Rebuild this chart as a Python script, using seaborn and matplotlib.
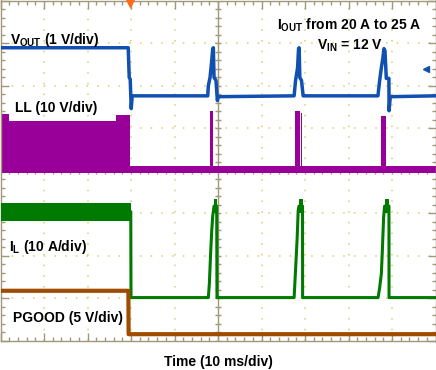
import numpy as np
import matplotlib
matplotlib.use("Agg")
import matplotlib.pyplot as plt
import seaborn as sns

# Zeit in ms (10 ms/div), Amplituden in Skalenteilen (div), Nullinie in der Mitte
vout_t = [0, 29.36, 29.59, 29.82, 30.05, 30.28, 47.64, 47.78, 48.17, 48.56, 48.79, 48.93, 49.09,
          49.54, 49.85, 50.08, 67.5, 67.83, 68.29, 68.52, 68.65, 68.81, 69.2, 69.57, 86.77, 87.16,
          87.55, 87.92, 88.15, 88.38, 88.69, 89.29, 89.32, 89.61, 100]
vout_v = [2.89, 2.89, 2.19, 2.15, 1.46, 1.76, 1.76, 2.0, 2.19, 2.59, 2.87, 2.89, 2.19,
          2.12, 1.65, 1.74, 1.76, 2.12, 2.42, 2.87, 2.89, 2.19, 2.12, 1.76, 1.76, 2.12,
          2.42, 2.66, 2.87, 2.82, 2.17, 2.17, 1.41, 1.74, 1.76]

ll_t = [0, 2.0, 2.0, 26.5, 26.5, 29.8, 29.8, 48.1, 48.1, 48.9, 48.9, 67.6, 67.6, 68.8, 68.8, 69.1,
        69.1, 69.3, 69.3, 87.5, 87.5, 88.7, 88.7, 89.2, 89.2, 89.4, 89.4, 100]
ll_top = [1.34, 1.34, 1.18, 1.18, 1.3, 1.3, 0.1, 0.1, 1.41, 1.41, 0.1, 0.1, 1.41, 1.41, 0.1, 0.1,
          1.35, 1.35, 0.1, 0.1, 1.29, 1.29, 0.1, 0.1, 1.41, 1.41, 0.1, 0.1]
ll_base = 0.03

il_t = [0, 29.95, 30.0, 47.64, 47.78, 48.01, 48.33, 48.56, 48.79, 49.09, 49.7, 49.77, 67.5,
        67.9, 68.2, 68.43, 68.6, 69.43, 69.45, 86.8, 87.16, 87.55, 87.78, 88.07, 88.3, 89.3,
        89.32, 100]
il_v = [-0.96, -0.96, -2.98, -2.98, -2.98, -2.66, -1.88, -1.41, -1.06, -0.83, -0.83, -2.98, -2.98,
        -2.19, -1.58, -0.94, -0.83, -0.83, -2.98, -2.98, -2.75, -2.42, -1.88, -1.1, -0.83, -0.83,
        -2.98, -2.98]
# Welligkeitsbänder des Spulenstroms: Start, Ende, unten, oben
il_band_t0 = [0, 49.09, 68.6, 88.3]
il_band_t1 = [29.9, 49.7, 69.43, 89.3]
il_band_lo = [-1.18, -1.0, -1.0, -1.0]
il_band_hi = [-0.75, -0.66, -0.66, -0.66]

pg_t = [0, 29.4, 29.45, 100]
pg_v = [-2.82, -2.82, -3.84, -3.84]

trig_t = 29.8

sns.set_theme(style="white")
plt.rcParams['font.family'] = ['Liberation Sans', 'DejaVu Sans']
plt.rcParams['mathtext.fontset'] = 'custom'
plt.rcParams['mathtext.rm'] = 'Liberation Sans'
plt.rcParams['mathtext.bf'] = 'Liberation Sans:bold'

W, H = 436, 370
fig = plt.figure(figsize=(W / 100, H / 100), dpi=100)
ax = fig.add_axes([0.5 / W, (H - 341) / H, 435 / W, 340.5 / H])

grid_c = '#A09878'
dot_c = '#D6CF6A'

# gepunktetes Raster
for xv in range(10, 100, 10):
    if xv != 50:
        ax.axvline(xv, color=dot_c, lw=1.1, ls=(0, (1, 6)), zorder=0)
for yv in range(-3, 4):
    if yv != 0:
        ax.axhline(yv, color=dot_c, lw=1.1, ls=(0, (1, 6)), zorder=0)
# Mittelkreuz mit Teilstrichen
ax.axvline(50, color=grid_c, lw=1, zorder=1)
ax.axhline(0, color=grid_c, lw=1, zorder=1)
ax.plot(np.full(41, 50.0), np.linspace(-4, 4, 41), ls='none', marker='_', ms=5, mew=1, color=grid_c, zorder=1)
ax.plot(np.linspace(0, 100, 51), np.zeros(51), ls='none', marker='|', ms=5, mew=1, color=grid_c, zorder=1)

# LL
ax.fill_between(ll_t, ll_base - 0.08, ll_top, color='#990099', lw=0, zorder=2)

# IL
for t0, t1, lo, hi in zip(il_band_t0, il_band_t1, il_band_lo, il_band_hi):
    ax.fill_between([t0, t1], [lo, lo], [hi, hi], color='#007A00', lw=0, zorder=3)
sns.lineplot(x=il_t, y=il_v, ax=ax, sort=False, estimator=None, color='#007A00', lw=2.2, zorder=3)

# PGOOD
sns.lineplot(x=pg_t, y=pg_v, ax=ax, sort=False, estimator=None, color='#A04C00', lw=3, zorder=3)

# VOUT
sns.lineplot(x=vout_t, y=vout_v, ax=ax, sort=False, estimator=None, color='#1050B0', lw=2.5, zorder=4)

# Triggermarke und Referenzpfeil
ax.plot([trig_t], [4.0], marker='v', ms=9, color='#FF6A1A', clip_on=False, zorder=6)
ax.plot([97.8], [2.4], marker='<', ms=4, color='#1050B0', zorder=6)

ax.set_xlim(0, 100)
ax.set_ylim(-4, 4)
ax.set_xticks(np.arange(0, 101, 10))
ax.set_yticks(np.arange(-4, 5, 1))
ax.set_xticks(np.arange(0, 101, 2), minor=True)
ax.set_yticks(np.arange(-4, 4.01, 0.2), minor=True)
ax.tick_params(which='both', direction='in', top=True, right=True, bottom=True, left=True,
               labelbottom=False, labelleft=False, color=grid_c, width=1)
ax.tick_params(which='major', length=6)
ax.tick_params(which='minor', length=3)
ax.set_xlabel('')
ax.set_ylabel('')
for s in ax.spines.values():
    s.set_color(grid_c)
    s.set_linewidth(1)


def px_text(x, y, s, ha='left'):
    fig.text(x / W, 1 - y / H, s, ha=ha, va='baseline', fontsize=10, fontweight='bold', color='black')


px_text(10, 44, r'$\mathbf{V_{OUT}}$ (1 V/div)')
px_text(15, 112, 'LL (10 V/div)')
px_text(9, 251, r'$\mathbf{I_{L}}$ (10 A/div)')
px_text(13, 322, 'PGOOD (5 V/div)')
px_text(421, 30, r'$\mathbf{I_{OUT}}$ from 20 A to 25 A', ha='right')
px_text(350, 50, r'$\mathbf{V_{IN}}$ = 12 V', ha='center')
px_text(218, 366, 'Time (10 ms/div)', ha='center')

fig.savefig('out.png', dpi=100, facecolor='white')
